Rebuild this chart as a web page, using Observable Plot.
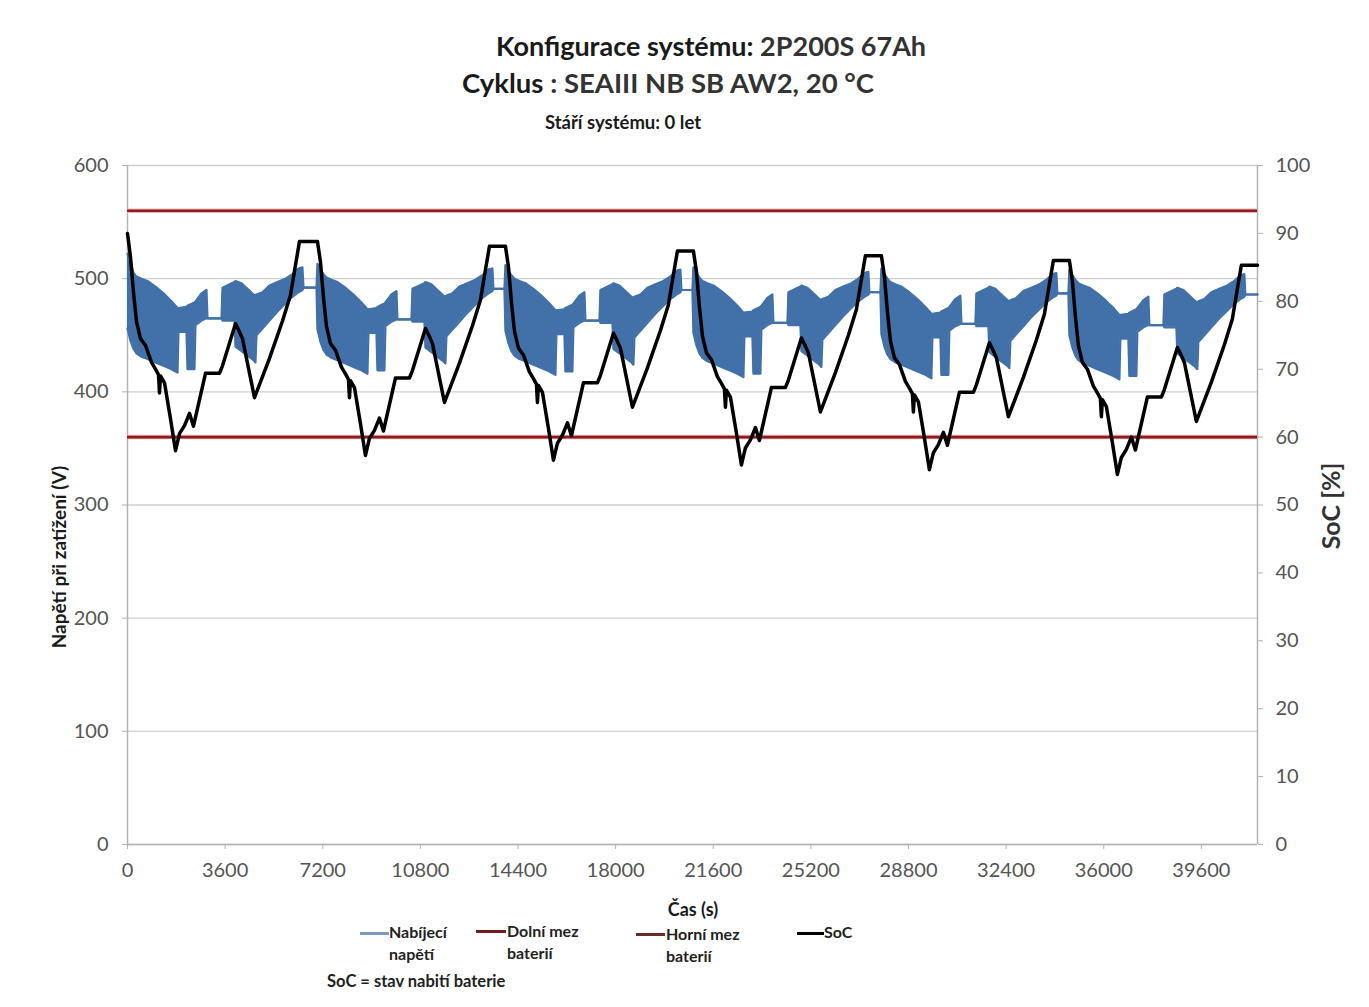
<!DOCTYPE html>
<html>
<head>
<meta charset="utf-8">
<script src="https://cdn.jsdelivr.net/npm/d3@7"></script>
<script src="https://cdn.jsdelivr.net/npm/@observablehq/plot@0.6"></script>
<style>
  html, body { margin: 0; padding: 0; background: #fff; }
  #wrap { position: relative; width: 1369px; height: 1007px; overflow: hidden; font-family: Lato, "Open Sans", sans-serif; color: #1a1a1a; }
  #chart { position: absolute; left: 0; top: 140px; }
  .t { position: absolute; white-space: nowrap; font-weight: bold; line-height: 1; }
  .c { transform: translate(-50%, -50%); }
  .leg { position: absolute; font-weight: bold; font-size: 16px; line-height: 22px; color: #222; white-space: nowrap; }
  .sw { position: absolute; height: 3px; }
</style>
</head>
<body>
<div id="wrap">
  <div class="t c" style="left:711px;top:45px;font-size:27px;">Konfigurace systému: <span style="color:#333">2P200S 67Ah</span></div>
  <div class="t c" style="left:668px;top:83px;font-size:27.5px;">Cyklus<span style="color:#333"> : SEAIII NB SB AW2, 20 °C</span></div>
  <div class="t c" style="left:623px;top:122px;font-size:18.5px;">Stáří systému: 0 let</div>
  <div id="chart"></div>
  <div class="t c" style="left:58px;top:557px;font-size:19px;transform:translate(-50%,-50%) rotate(-90deg);">Napětí při zatížení (V)</div>
  <div class="t c" style="left:1330px;top:506px;font-size:25px;color:#333;transform:translate(-50%,-50%) rotate(-90deg);">SoC [%]</div>
  <div class="t c" style="left:693px;top:909px;font-size:18px;">Čas (s)</div>

  <div class="sw" style="left:360px;top:932px;width:29px;background:#7b9bbf;"></div>
  <div class="leg" style="left:389px;top:921px;">Nabíjecí<br>napětí</div>
  <div class="sw" style="left:476px;top:930px;width:30px;background:#6e1c1c;"></div>
  <div class="leg" style="left:507px;top:920px;">Dolní mez<br>baterií</div>
  <div class="sw" style="left:636px;top:933px;width:29px;background:#6a2a2a;"></div>
  <div class="leg" style="left:666px;top:923px;">Horní mez<br>baterií</div>
  <div class="sw" style="left:797px;top:932px;width:27px;background:#000;"></div>
  <div class="leg" style="left:824px;top:921px;">SoC</div>
  <div class="leg" style="left:327px;top:970px;font-size:16.5px;">SoC = stav nabití baterie</div>
</div>
<script>
// ---- axis ticks ----
const timeTicks = [0, 3600, 7200, 10800, 14400, 18000, 21600, 25200, 28800, 32400, 36000, 39600];
const voltTicks = [0, 100, 200, 300, 400, 500, 600];
const socTicks = [0, 10, 20, 30, 40, 50, 60, 70, 80, 90, 100];
const timeMax = 41670;

// ---- battery limits (V) ----
const limitNames = ["Dolní mez baterií", "Horní mez baterií"];
const limitValues = [360, 560];

// ---- SoC (%) over time (s) ----
const socTime = [
  0,111,221,332,479,664,885,1032,1143,1180,1217,1364,1585,1770,1917,2102,2286,2433,2876,3392,3503,3982,4093,4240,4683,5236,5715,6010,6194,6342,7005,
  7116,7226,7337,7484,7669,7890,8037,8148,8185,8222,8369,8590,8775,8922,9107,9291,9438,9881,10397,10508,10987,11098,11245,11688,12241,12720,13015,13199,13347,13937,
  14048,14158,14269,14416,14601,14822,14969,15080,15117,15154,15301,15522,15707,15854,16039,16223,16370,16813,17329,17440,17919,18030,18177,18620,19173,19652,19947,20131,20279,20869,
  20980,21090,21201,21348,21533,21754,21901,22012,22049,22086,22233,22454,22639,22786,22971,23155,23302,23745,24261,24372,24851,24962,25109,25552,26105,26584,26879,27063,27211,27801,
  27912,28022,28133,28280,28465,28686,28833,28944,28981,29018,29165,29386,29571,29718,29903,30087,30234,30677,31193,31304,31783,31894,32041,32484,33037,33516,33811,33995,34143,34733,
  34844,34954,35065,35212,35397,35618,35765,35876,35913,35950,36097,36318,36503,36650,36835,37019,37166,37609,38125,38236,38715,38826,38973,39416,39969,40448,40743,40927,41075,41670
];
const socValue = [
  90.0,86.5,81.3,77.0,74.5,73.5,71.0,70.0,69.2,66.5,69.0,68.0,62.7,58.0,60.5,61.7,63.5,61.6,69.4,69.4,70.5,76.7,75.8,74.5,65.8,71.6,77.1,80.9,85.3,88.8,88.8,
  85.8,80.6,76.3,73.8,72.8,70.3,69.3,68.5,65.8,68.3,67.3,62.0,57.3,59.8,61.0,62.8,60.9,68.7,68.7,69.8,76.0,75.1,73.8,65.1,70.9,76.4,80.2,84.6,88.1,88.1,
  85.1,79.9,75.6,73.1,72.1,69.6,68.6,67.8,65.1,67.6,66.6,61.3,56.6,59.1,60.3,62.1,60.2,68.0,68.0,69.1,75.3,74.4,73.1,64.4,70.2,75.7,79.5,83.9,87.4,87.4,
  84.4,79.2,74.9,72.4,71.4,68.9,67.9,67.1,64.4,66.9,65.9,60.6,55.9,58.4,59.6,61.4,59.5,67.3,67.3,68.4,74.6,73.7,72.4,63.7,69.5,75.0,78.8,83.2,86.7,86.7,
  83.7,78.5,74.2,71.7,70.7,68.2,67.2,66.4,63.7,66.2,65.2,59.9,55.2,57.7,58.9,60.7,58.8,66.6,66.6,67.7,73.9,73.0,71.7,63.0,68.8,74.3,78.1,82.5,86.0,86.0,
  83.0,77.8,73.5,71.0,70.0,67.5,66.5,65.7,63.0,65.5,64.5,59.2,54.5,57.0,58.2,60.0,58.1,65.9,65.9,67.0,73.2,72.3,71.0,62.3,68.1,73.6,77.4,81.8,85.3,85.3
];

// ---- charging voltage (V): lower / upper envelope of the dense signal ----
const voltTime = [
  0,111,221,332,516,737,1032,1327,1622,1844,1880,2175,2212,2470,2507,2728,2913,2950,3466,3503,3945,3982,4203,4424,4646,4719,4756,4977,5236,5531,5825,6084,6305,6452,6489,6969,
  7005,7116,7226,7337,7521,7742,8037,8332,8627,8849,8885,9180,9217,9475,9512,9733,9918,9955,10471,10508,10950,10987,11208,11429,11651,11724,11761,11982,12241,12536,12830,13089,13310,13457,13494,13900,
  13937,14048,14158,14269,14453,14674,14969,15264,15559,15781,15817,16112,16149,16407,16444,16665,16850,16887,17403,17440,17882,17919,18140,18361,18583,18656,18693,18914,19173,19468,19762,20021,20242,20389,20426,20832,
  20869,20980,21090,21201,21385,21606,21901,22196,22491,22713,22749,23044,23081,23339,23376,23597,23782,23819,24335,24372,24814,24851,25072,25293,25515,25588,25625,25846,26105,26400,26694,26953,27174,27321,27358,27764,
  27801,27912,28022,28133,28317,28538,28833,29128,29423,29645,29681,29976,30013,30271,30308,30529,30714,30751,31267,31304,31746,31783,32004,32225,32447,32520,32557,32778,33037,33332,33626,33885,34106,34253,34290,34696,
  34733,34844,34954,35065,35249,35470,35765,36060,36355,36577,36613,36908,36945,37203,37240,37461,37646,37683,38199,38236,38678,38715,38936,39157,39379,39452,39489,39710,39969,40264,40558,40817,41038,41185,41222,41670
];
const voltLow = [
  456,445,438,434,431,429,426,423,420,417,453,453,420,420,459,463,465,465,465,463,463,440,436,432,428,426,450,456,463,471,478,484,488,490,492,492,
  455,444,437,433,430,428,425,422,419,416,452,452,419,419,458,462,464,464,464,462,462,439,435,431,427,425,449,455,462,470,477,483,487,489,491,491,
  454,443,436,432,429,427,424,421,418,415,451,451,418,418,457,461,463,463,463,461,461,438,434,430,426,424,448,454,461,469,476,482,486,488,490,490,
  452,441,434,430,427,425,422,419,416,413,449,449,416,416,455,459,461,461,461,459,459,436,432,428,424,422,446,452,459,467,474,480,484,486,488,488,
  451,440,433,429,426,424,421,418,415,412,448,448,415,415,454,458,460,460,460,458,458,435,431,427,423,421,445,451,458,466,473,479,483,485,487,487,
  450,439,432,428,425,423,420,417,414,411,447,447,414,414,453,457,459,459,459,457,457,434,430,426,422,420,444,450,457,465,472,478,482,484,486,486
];
const voltHigh = [
  522,515,505,502,500,498,493,487,480,474,474,475,476,479,480,487,490,465,465,492,497,498,496,491,486,485,486,488,494,497,500,504,509,510,492,492,
  513,508,504,501,499,497,492,486,479,473,473,474,475,478,479,486,489,464,464,491,496,497,495,490,485,484,485,487,493,496,499,503,508,509,491,491,
  512,507,503,500,498,496,491,485,478,472,472,473,474,477,478,485,488,463,463,490,495,496,494,489,484,483,484,486,492,495,498,502,507,508,490,490,
  510,505,501,498,496,494,489,483,476,470,470,471,472,475,476,483,486,461,461,488,493,494,492,487,482,481,482,484,490,493,496,500,505,506,488,488,
  509,504,500,497,495,493,488,482,475,469,469,470,471,474,475,482,485,460,460,487,492,493,491,486,481,480,481,483,489,492,495,499,504,505,487,487,
  508,503,499,496,494,492,487,481,474,468,468,469,470,473,474,481,484,459,459,486,491,492,490,485,480,479,480,482,488,491,494,498,503,504,486,486
];

// ---- tables built from the arrays ----
const volt = voltTime.map((t, i) => ({t, lo: voltLow[i], hi: voltHigh[i]}));
const soc = socTime.map((t, i) => ({t, v: socValue[i]}));
const limits = limitValues.map((v, i) => ({name: limitNames[i], v}));

// SoC is drawn on the secondary (right) axis: 0–100 % maps onto 0–600 of the plot's y range
const socToY = 6;

const blue = "#4271a9";
const gridC = "#cfcfcf";
const axisC = "#b3b3b3";
const labelC = "#555";

const chart = Plot.plot({
  width: 1369,
  height: 770,
  marginLeft: 127,
  marginRight: 112,
  marginTop: 25,
  marginBottom: 66,
  x: {domain: [0, timeMax]},
  y: {domain: [0, 600]},
  style: {fontFamily: "Lato, 'Open Sans', sans-serif", fontSize: "20px", color: labelC, background: "transparent", overflow: "visible"},
  marks: [
    Plot.gridY(voltTicks, {stroke: gridC, strokeOpacity: 1, strokeWidth: 1.3}),
    Plot.ruleX([0], {stroke: axisC, strokeWidth: 1.5}),
    Plot.ruleX([timeMax], {stroke: axisC, strokeWidth: 1.5}),
    Plot.ruleY([0], {stroke: axisC, strokeWidth: 1.5}),
    Plot.axisY(voltTicks, {anchor: "left", tickSize: 5, tickPadding: 14, stroke: axisC, label: null, fill: labelC}),
    Plot.axisY(socTicks.map(d => d * socToY), {anchor: "right", tickSize: 5, tickPadding: 13, stroke: axisC, label: null, tickFormat: d => d / socToY, fill: labelC}),
    Plot.axisX(timeTicks, {anchor: "bottom", tickSize: 5, tickPadding: 13, stroke: axisC, label: null, tickFormat: d => String(d), fill: labelC}),
    Plot.areaY(volt, {x: "t", y1: "lo", y2: "hi", fill: blue, fillOpacity: 1, curve: "linear"}),
    Plot.line(volt, {x: "t", y: "lo", stroke: blue, strokeWidth: 2.2}),
    Plot.line(volt, {x: "t", y: "hi", stroke: blue, strokeWidth: 2.2}),
    Plot.ruleY(limits, {y: "v", stroke: "#f0b0b0", strokeWidth: 4.5}),
    Plot.ruleY(limits, {y: "v", stroke: "#8e1b1e", strokeWidth: 2.6}),
    Plot.line(soc, {x: "t", y: d => d.v * socToY, stroke: "#000", strokeWidth: 3.5, strokeLinejoin: "round"})
  ]
});
document.getElementById("chart").appendChild(chart);
</script>
</body>
</html>
